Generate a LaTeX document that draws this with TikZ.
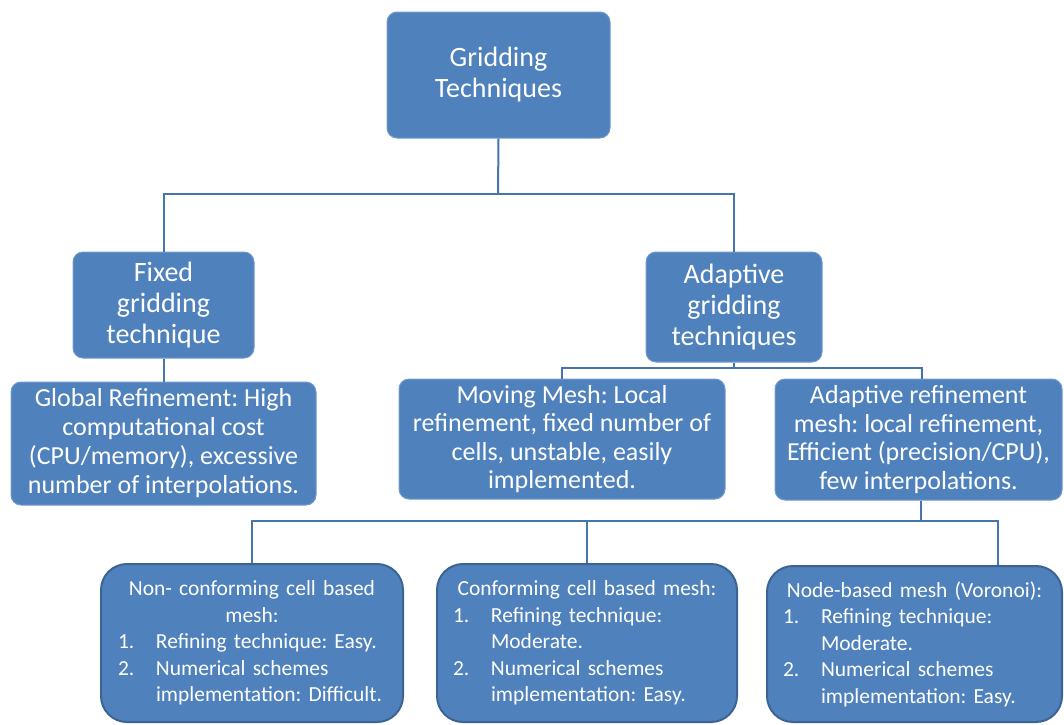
\documentclass[tikz,border=0pt]{standalone}
\usepackage{fontspec}
\setmainfont{Carlito}
\usepackage{xcolor}
\definecolor{boxblue}{HTML}{4F81BD}
\definecolor{rimblue}{HTML}{3B6494}
\definecolor{wireblue}{HTML}{4674AC}

\newcommand{\listline}[2]{\par\noindent\makebox[38pt][l]{#1}\mbox{#2}}
\newcommand{\listcont}[1]{\par\noindent\hspace*{38pt}\mbox{#1}}

\begin{document}
\frenchspacing
\begin{tikzpicture}[x=1pt,y=-1pt,
  gbox/.style={fill=boxblue,draw=boxblue!80!white,line width=1pt,rounded corners=10pt,
    text=white,align=center,inner sep=0pt},
  mbox/.style={fill=boxblue,draw=rimblue,line width=2pt,rounded corners=26pt,
    text=white,align=left,inner ysep=0pt,font=\fontsize{21.5}{26.5}\selectfont},
  wire/.style={draw=wireblue,line width=2pt}]
  \useasboundingbox (0,0) rectangle (1064,724);

  % Root
  \node[gbox,minimum width=223pt,minimum height=126pt,font=\fontsize{28}{31}\selectfont]
    (root) at (498.5,75) {Gridding\\Techniques};

  % Second level
  \node[gbox,minimum width=181pt,minimum height=106pt,font=\fontsize{28}{31}\selectfont]
    (fixed) at (163.5,305) {Fixed\\gridding\\technique};
  \node[gbox,minimum width=176pt,minimum height=110pt,font=\fontsize{28}{31}\selectfont]
    (adapt) at (734,307) {Adaptive\\gridding\\techniques};

  % Third level
  \node[gbox,minimum width=305pt,minimum height=123pt,font=\fontsize{26}{29}\selectfont]
    (global) at (163.5,443.5) {Global Refinement: High\\computational cost\\(CPU/memory), excessive\\number of interpolations.};
  \node[gbox,minimum width=326pt,minimum height=120pt,font=\fontsize{26}{28.5}\selectfont]
    (moving) at (562,439) {Moving Mesh: Local\\refinement, fixed number of\\cells, unstable, easily\\implemented.};
  \node[gbox,minimum width=287pt,minimum height=121pt,font=\fontsize{26}{28.5}\selectfont]
    (adref) at (918.5,439.5) {Adaptive refinement\\mesh: local refinement,\\Efficient (precision/CPU),\\few interpolations.};

  % Mesh types
  \node[mbox,inner xsep=17pt,text width=268pt,minimum height=158pt] (nonconf) at (252,643) {%
    {\centering Non- conforming cell based\\mesh:\par}
    \listline{1.}{Refining technique: Easy.}
    \listline{2.}{Numerical schemes}
    \listcont{implementation: Difficult.}};
  \node[mbox,inner xsep=16pt,text width=268pt,minimum height=158pt] (conf) at (587,643) {%
    {\centering Conforming cell based mesh:\par}
    \listline{1.}{Refining technique:}
    \listcont{Moderate.}
    \listline{2.}{Numerical schemes}
    \listcont{implementation: Easy.}};
  \node[mbox,inner xsep=16pt,text width=263pt,minimum height=156pt] (nodemesh) at (914.5,644) {%
    {\centering Node-based mesh (Voronoi):\par}
    \listline{1.}{Refining technique:}
    \listcont{Moderate.}
    \listline{2.}{Numerical schemes}
    \listcont{implementation: Easy.}};

  % Connectors
  \coordinate (rootjoin) at (498,194);
  \coordinate (adaptjoin) at (734,368);
  \coordinate (meshjoin) at (921,521);
  \draw[wire] (root.south) -- (rootjoin);
  \draw[wire] (fixed.north) |- (rootjoin) -| (adapt.north);
  \draw[wire] (fixed.south) -- (global.north);
  \draw[wire] (adapt.south) -- (adaptjoin);
  \draw[wire] (moving.north) |- (adaptjoin) -| ([xshift=3pt]adref.north);
  \draw[wire] ([xshift=2.5pt]adref.south) -- (meshjoin);
  \draw[wire] (nonconf.north) |- (meshjoin) -| ([xshift=83.5pt]nodemesh.north);
  \draw[wire] (conf.north) -- (conf.north |- meshjoin);
\end{tikzpicture}
\end{document}
